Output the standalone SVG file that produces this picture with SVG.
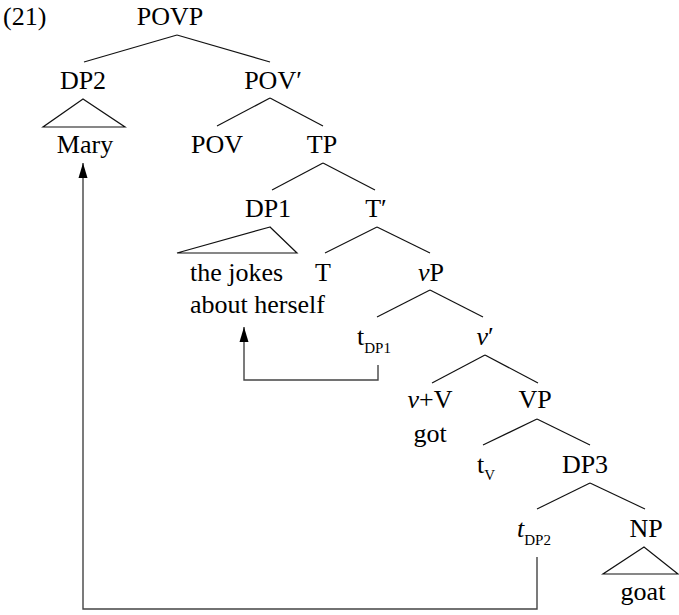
<svg xmlns="http://www.w3.org/2000/svg" width="679" height="615" viewBox="0 0 679 615" font-family="'Liberation Serif', 'DejaVu Serif', serif">
  <style>
    text { font-family: 'Liberation Serif', 'DejaVu Serif', serif; font-size: 26px; fill: #000; }
    .n { text-anchor: middle; }
    .sub { font-size: 15px; }
    .it { font-style: italic; }
    .edge { stroke: #111; stroke-width: 1.2; fill: none; }
    .tri { stroke: #111; stroke-width: 1.2; fill: none; }
    .move { stroke: #444; stroke-width: 1.4; fill: none; }
  </style>
  <defs>
    <marker id="head" viewBox="0 0 16 10" refX="15" refY="5" markerWidth="16" markerHeight="10" markerUnits="userSpaceOnUse" orient="auto">
      <path d="M15,5 L0,0.5 L0,9.5 Z" fill="#000"/>
    </marker>
  </defs>

  <!-- example number -->
  <text x="3" y="25">(21)</text>

  <!-- tree edges and movement paths -->
  <g id="connectors">
    <line class="edge" x1="177" y1="35" x2="84" y2="62"/>
    <line class="edge" x1="177" y1="35" x2="270" y2="62"/>
    <line class="edge" x1="270" y1="98" x2="217" y2="126"/>
    <line class="edge" x1="270" y1="98" x2="323" y2="126"/>
    <line class="edge" x1="323" y1="163" x2="272" y2="190"/>
    <line class="edge" x1="323" y1="163" x2="375" y2="190"/>
    <line class="edge" x1="377" y1="227" x2="325" y2="253"/>
    <line class="edge" x1="377" y1="227" x2="430" y2="253"/>
    <line class="edge" x1="430" y1="290" x2="377" y2="317"/>
    <line class="edge" x1="430" y1="290" x2="483" y2="317"/>
    <line class="edge" x1="485" y1="355" x2="432" y2="383"/>
    <line class="edge" x1="485" y1="355" x2="538" y2="383"/>
    <line class="edge" x1="537" y1="419" x2="483" y2="445"/>
    <line class="edge" x1="537" y1="419" x2="590" y2="445"/>
    <line class="edge" x1="590" y1="483" x2="537" y2="509"/>
    <line class="edge" x1="590" y1="483" x2="645" y2="509"/>
    <!-- movement of DP1 -->
    <path class="move" d="M378,365 V380 H244 V327" marker-end="url(#head)"/>
    <!-- movement of DP2 -->
    <path class="move" d="M537,557 V609 H83 V163" marker-end="url(#head)"/>
  </g>

  <g id="POVP"><text class="n" x="170" y="25">POVP</text></g>
  <g id="DP2">
    <text class="n" x="83" y="89">DP2</text>
    <polygon class="tri" points="83,99 43,127 125,127"/>
  </g>
  <g id="Mary"><text class="n" x="85" y="153">Mary</text></g>
  <g id="POVbar"><text class="n" x="273" y="89">POV′</text></g>
  <g id="POV"><text class="n" x="217" y="153">POV</text></g>
  <g id="TP"><text class="n" x="322" y="153">TP</text></g>
  <g id="DP1">
    <text class="n" x="268" y="217">DP1</text>
    <polygon class="tri" points="270,227 177,253 297,253"/>
  </g>
  <g id="jokes">
    <text x="190" y="281">the jokes</text>
    <text x="190" y="313">about herself</text>
  </g>
  <g id="Tbar"><text class="n" x="376" y="217">T′</text></g>
  <g id="T"><text class="n" x="323" y="281">T</text></g>
  <g id="vP"><text class="n" x="431" y="281"><tspan class="it">v</tspan>P</text></g>
  <g id="tDP1"><text x="357" y="345">t<tspan class="sub" dy="8">DP1</tspan></text></g>
  <g id="vbar"><text class="n" x="485" y="345"><tspan class="it">v</tspan>′</text></g>
  <g id="vV">
    <text class="n" x="430" y="408"><tspan class="it">v</tspan>+V</text>
    <text class="n" x="430" y="442">got</text>
  </g>
  <g id="VP"><text class="n" x="535" y="408">VP</text></g>
  <g id="tV"><text x="477" y="473">t<tspan class="sub" dy="7">V</tspan></text></g>
  <g id="DP3"><text class="n" x="585" y="473">DP3</text></g>
  <g id="tDP2"><text x="517" y="537"><tspan class="it">t</tspan><tspan class="sub" dy="8">DP2</tspan></text></g>
  <g id="NP">
    <text class="n" x="646" y="537">NP</text>
    <polygon class="tri" points="644,547 603,574 678,574"/>
  </g>
  <g id="goat"><text class="n" x="643" y="600">goat</text></g>
</svg>
